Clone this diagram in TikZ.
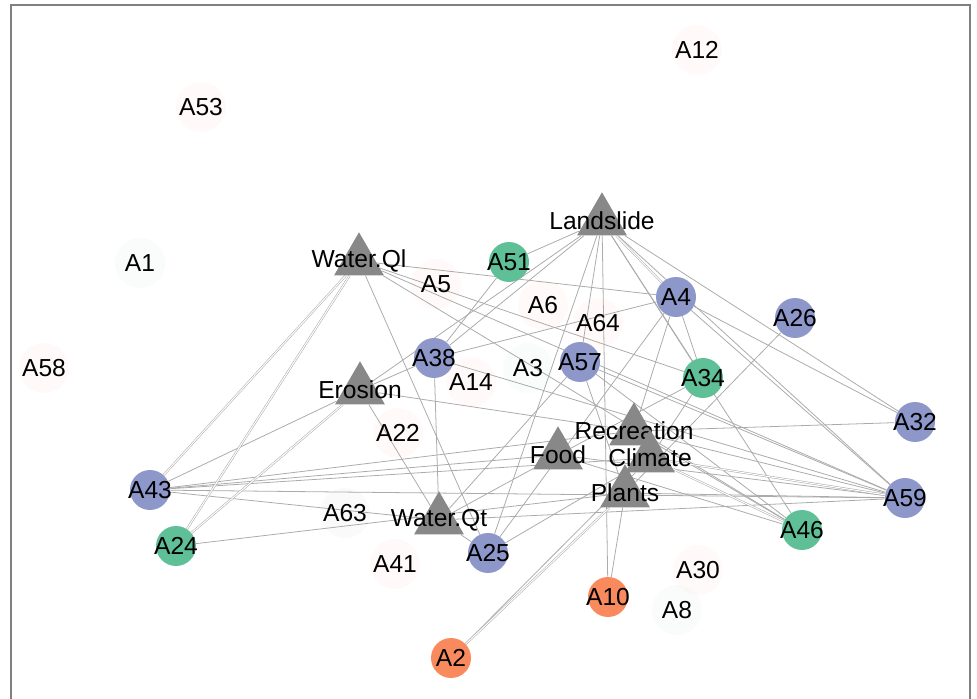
\documentclass[tikz,border=0pt]{standalone}
\usepackage{fontspec}
\setmainfont{Liberation Sans}
\usetikzlibrary{shapes.geometric,backgrounds}

\definecolor{spblue}{HTML}{8D97C9}
\definecolor{spgreen}{HTML}{5FBF97}
\definecolor{sporange}{HTML}{F98A5E}
\definecolor{svcgray}{HTML}{888888}
\definecolor{linkgray}{HTML}{ABABAB}
\definecolor{framegray}{HTML}{808080}

\tikzset{
  svc/.style={regular polygon, regular polygon sides=3, fill=svcgray,
    minimum size=1.15cm, inner sep=0pt},
  sp/.style={circle, fill=#1, minimum size=0.8cm, inner sep=0pt},
  faint/.style={circle, fill=#1, fill opacity=0.04, text opacity=1,
    minimum size=1cm, inner sep=0pt},
  conn/.style={draw=linkgray, line width=0.45pt},
  conntwo/.style={conn, double=white, double distance=0.6pt, line width=0.3pt}
}

\begin{document}
\begin{tikzpicture}[x=0.02cm, y=-0.02cm, font=\fontsize{14}{16}\selectfont]
    \useasboundingbox (0,0) rectangle (977,699);
    \draw[framegray, line width=1.1pt] (11,699) -- (11,5) -- (970,5) -- (970,699);

    % services
    \node[svc, label={center:Landslide}] (land) at (602,221) {};
    \node[svc, label={center:Water.Ql}] (wql) at (359,261) {};
    \node[svc, label={center:Erosion}] (eros) at (360,390) {};
    \node[svc, label={center:Food}] (food) at (558,455) {};
    \node[svc, label={center:Recreation}] (recr) at (634,431) {};
    \node[svc, label={center:Climate}] (clim) at (650,458) {};
    \node[svc, label={center:Plants}] (plant) at (625,493) {};
    \node[svc, label={center:Water.Qt}] (wqt) at (439,520) {};

    % species
    \node[sp=spgreen, label={center:A51}] (a51) at (509,262) {};
    \node[sp=spblue, label={center:A4}] (a4) at (676,297) {};
    \node[sp=spblue, label={center:A26}] (a26) at (795,318) {};
    \node[sp=spgreen, label={center:A34}] (a34) at (703,378) {};
    \node[sp=spblue, label={center:A32}] (a32) at (915,422) {};
    \node[sp=spblue, label={center:A38}] (a38) at (434,358) {};
    \node[sp=spblue, label={center:A57}] (a57) at (580,362) {};
    \node[sp=spblue, label={center:A43}] (a43) at (150,490) {};
    \node[sp=spgreen, label={center:A24}] (a24) at (176,546) {};
    \node[sp=spblue, label={center:A59}] (a59) at (905,498) {};
    \node[sp=spgreen, label={center:A46}] (a46) at (802,530) {};
    \node[sp=spblue, label={center:A25}] (a25) at (488,553) {};
    \node[sp=sporange, label={center:A10}] (a10) at (608,597) {};
    \node[sp=sporange, label={center:A2}] (a2) at (451,658) {};

    % unlinked species
    \node[faint=sporange] (a12) at (697,50) {A12};
    \node[faint=sporange] (a53) at (201,107) {A53};
    \node[faint=spgreen] (a1) at (140,263) {A1};
    \node[faint=sporange] (a58) at (44,368) {A58};
    \node[faint=sporange] (a5) at (436,284) {A5};
    \node[faint=sporange] (a6) at (543,305) {A6};
    \node[faint=sporange] (a64) at (598,323) {A64};
    \node[faint=spgreen] (a3) at (528,368) {A3};
    \node[faint=sporange] (a14) at (471,382) {A14};
    \node[faint=sporange] (a22) at (398,433) {A22};
    \node[faint=svcgray] (a63) at (345,513) {A63};
    \node[faint=sporange] (a41) at (395,564) {A41};
    \node[faint=sporange] (a30) at (698,570) {A30};
    \node[faint=spgreen] (a8) at (677,610) {A8};

    \begin{scope}[on background layer]
      \foreach \s/\t in {land/a51, land/a32, land/a59, land/a10, land/a57,
          land/eros, land/a25, land/a46, land/a34, land/a38,
          wql/a4, wql/a59, wql/a46, wql/a25, wql/a34,
          eros/a43, eros/a38, eros/recr, eros/wqt,
          a38/a51, a38/a4, a38/wqt, a38/a59,
          a57/a46, a57/a59, a57/plant, a57/wqt,
          a4/a34, a4/recr, a4/a59, a4/a32, a4/a25,
          a26/plant, a34/food, a34/clim, a32/recr,
          a59/plant, a59/recr, a59/food, a59/a43, a59/wqt,
          a46/recr, a46/food, a10/plant, a2/clim,
          a25/wqt, a25/clim, food/a43, food/wqt,
          a43/recr, a43/clim, a43/wqt, a24/plant}
        \draw[conn] (\s) -- (\t);
      \foreach \s/\t in {land/a4, wql/a43, wql/a24, eros/a24,
          a59/clim, a46/clim, a2/plant}
        \draw[conntwo] (\s) -- (\t);
    \end{scope}
\end{tikzpicture}
\end{document}
